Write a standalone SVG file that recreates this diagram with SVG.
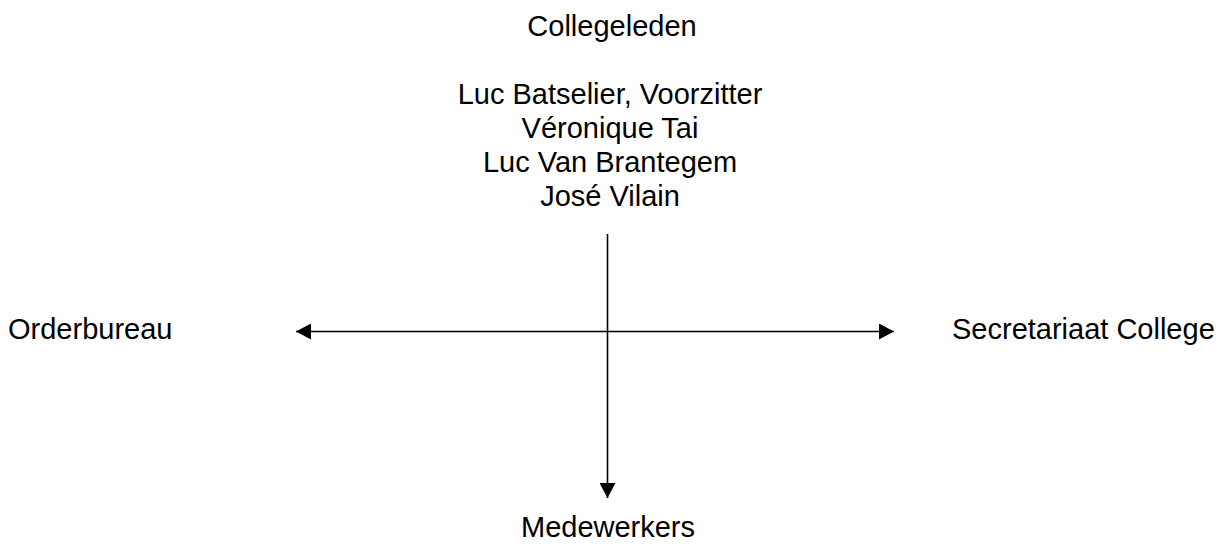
<svg xmlns="http://www.w3.org/2000/svg" width="1224" height="544" viewBox="0 0 1224 544">
<style>
text{font-family:"Liberation Sans",Arial,sans-serif;font-size:29px;fill:#000}
.c{text-anchor:middle}
.ln{stroke:#000;stroke-width:1.6;fill:none}
</style>
<defs>
<marker id="ah" viewBox="0 0 15 16" refX="15" refY="8" markerWidth="15" markerHeight="16" markerUnits="userSpaceOnUse" orient="auto">
<path d="M0,0 L15,8 L0,16 Z" fill="#000"/>
</marker>
</defs>
<rect width="1224" height="544" fill="#fff"/>
<g id="college">
<text class="c" x="612" y="36">Collegeleden</text>
<text class="c" x="610" y="104">Luc Batselier, Voorzitter</text>
<text class="c" x="610" y="138">Véronique Tai</text>
<text class="c" x="610" y="172">Luc Van Brantegem</text>
<text class="c" x="610" y="206">José Vilain</text>
</g>
<g id="orderbureau"><text x="8" y="339">Orderbureau</text></g>
<g id="secretariaat"><text x="952" y="339">Secretariaat College</text></g>
<g id="medewerkers"><text class="c" x="608" y="537">Medewerkers</text></g>
<g id="connectors">
<line class="ln" x1="607.5" y1="234" x2="607.5" y2="498" marker-end="url(#ah)"/>
<line class="ln" x1="607.5" y1="331.5" x2="296" y2="331.5" marker-end="url(#ah)"/>
<line class="ln" x1="607.5" y1="331.5" x2="894" y2="331.5" marker-end="url(#ah)"/>
</g>
</svg>
